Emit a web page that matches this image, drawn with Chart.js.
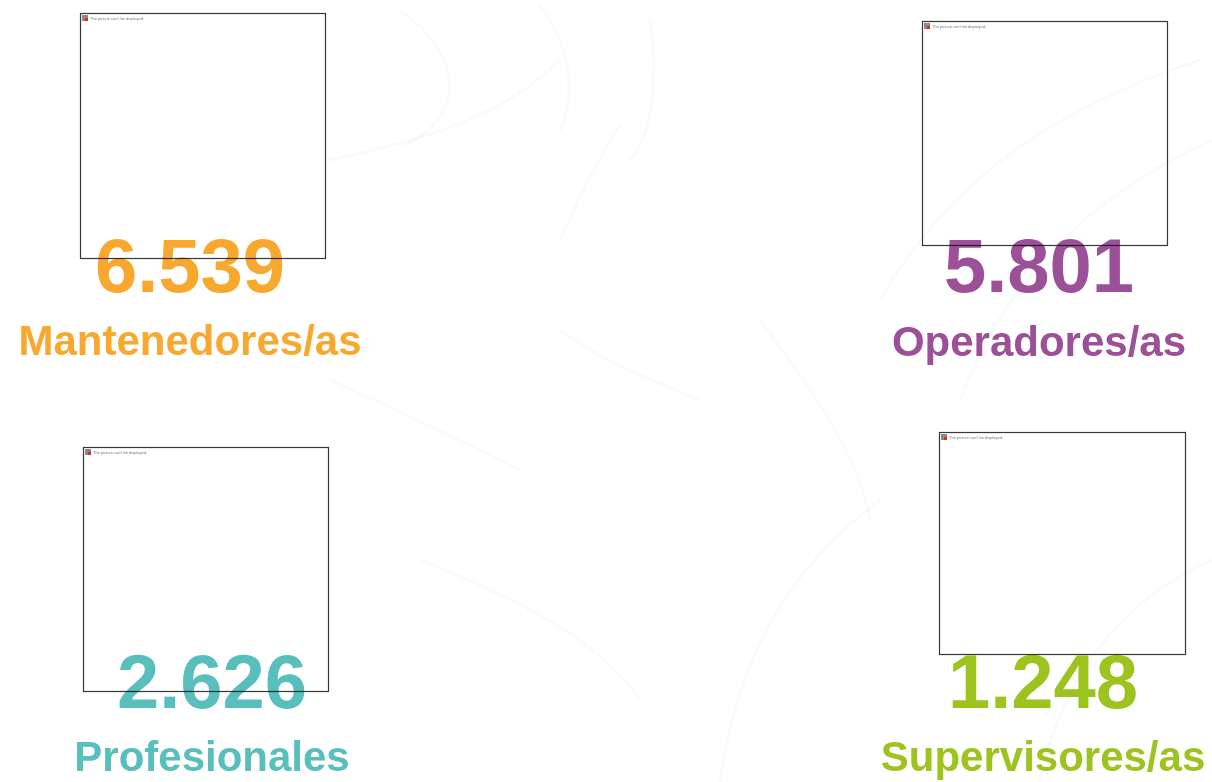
<!DOCTYPE html>
<html lang="es">
<head>
  <meta charset="UTF-8" />
  <title>Dotación por cargo</title>
  <script src="https://cdn.jsdelivr.net/npm/chart.js"></script>
  <style>
    html, body {
      margin: 0;
      padding: 0;
      background: #ffffff;
      font-family: Arial, "Liberation Sans", Helvetica, sans-serif;
    }
    .slide {
      position: relative;
      width: 1212px;
      height: 782px;
      overflow: hidden;
    }
  </style>
</head>
<body>
  <div class="slide">
    <canvas id="slideChart"></canvas>
  </div>

  <script>
    // Datos
    const categorias = ['Mantenedores/as', 'Operadores/as', 'Profesionales', 'Supervisores/as'];
    const valores = [6539, 5801, 2626, 1248];

    // Estilo y posición de cada bloque (no son datos)
    const colores = ['#F9A82F', '#9B5098', '#58BFBD', '#9DC31E'];
    const bloques = [
      { box: [80, 13, 245, 245], cx: 190, numBase: 292, labelBase: 355 },
      { box: [922, 21, 245, 224], cx: 1039, numBase: 292, labelBase: 356 },
      { box: [83, 447, 245, 244], cx: 212, numBase: 708, labelBase: 771 },
      { box: [939, 432, 246, 222], cx: 1043, numBase: 708, labelBase: 771 }
    ];
    const fuente = 'Arial, "Liberation Sans", Helvetica, sans-serif';

    const formatoMiles = (v) => String(v).replace(/\B(?=(\d{3})+(?!\d))/g, '.');

    // fondo con trazos muy suaves
    const fondoPlugin = {
      id: 'fondo',
      beforeDraw(chart) {
        const ctx = chart.ctx;
        ctx.save();
        ctx.fillStyle = '#ffffff';
        ctx.fillRect(0, 0, chart.width, chart.height);
        ctx.strokeStyle = 'rgba(0,0,0,0.018)';
        ctx.lineWidth = 3;
        ctx.lineCap = 'round';
        const curvas = [
          [[400, 10], [470, 60], [460, 120], [405, 145]],
          [[540, 5], [580, 60], [570, 110], [560, 130]],
          [[650, 20], [660, 80], [650, 140], [630, 160]],
          [[1200, 60], [1050, 110], [950, 180], [880, 300]],
          [[1212, 140], [1080, 200], [1000, 290], [960, 400]],
          [[620, 125], [590, 170], [570, 220], [560, 240]],
          [[330, 160], [420, 140], [500, 120], [560, 60]],
          [[560, 330], [600, 360], [650, 380], [700, 400]],
          [[880, 500], [800, 560], [740, 640], [720, 782]],
          [[1212, 560], [1120, 600], [1060, 680], [1040, 782]],
          [[420, 560], [520, 600], [600, 640], [640, 700]],
          [[330, 380], [420, 420], [480, 450], [520, 470]],
          [[760, 320], [820, 400], [860, 460], [870, 520]]
        ];
        curvas.forEach(c => {
          ctx.beginPath();
          ctx.moveTo(c[0][0], c[0][1]);
          ctx.bezierCurveTo(c[1][0], c[1][1], c[2][0], c[2][1], c[3][0], c[3][1]);
          ctx.stroke();
        });
        ctx.restore();
      }
    };

    // imagen rota + cifra + cargo
    const tarjetasPlugin = {
      id: 'tarjetas',
      afterDraw(chart) {
        const ctx = chart.ctx;
        const labels = chart.data.labels;
        const datos = chart.data.datasets[0].data;
        ctx.save();
        labels.forEach((cat, i) => {
          const b = bloques[i];
          const [x, y, w, h] = b.box;

          // icono de imagen no disponible
          ctx.fillStyle = '#8a8a8a';
          ctx.fillRect(x + 2, y + 2, 6, 6);
          ctx.fillStyle = '#e8261c';
          ctx.fillRect(x + 5, y + 5, 3, 3);
          ctx.fillStyle = '#777777';
          ctx.font = '4px ' + fuente;
          ctx.textAlign = 'left';
          ctx.textBaseline = 'alphabetic';
          ctx.fillText("The picture can't be displayed.", x + 10, y + 6.5);

          // cifra
          ctx.fillStyle = colores[i];
          ctx.textAlign = 'center';
          ctx.font = 'bold 76px ' + fuente;
          ctx.fillText(formatoMiles(datos[i]), b.cx, b.numBase);

          // cargo
          ctx.font = 'bold 42px ' + fuente;
          ctx.fillText(cat, b.cx, b.labelBase);

          // marco encima del texto
          ctx.strokeStyle = 'rgba(20,20,20,0.85)';
          ctx.lineWidth = 1.2;
          ctx.strokeRect(x + 0.5, y + 0.5, w, h);
        });
        ctx.restore();
      }
    };

    const ctx = document.getElementById('slideChart').getContext('2d');
    const slideChart = new Chart(ctx, {
      type: 'bar',
      data: {
        labels: categorias,
        datasets: [{
          label: 'Dotación',
          data: valores,
          backgroundColor: 'rgba(0,0,0,0)',
          borderWidth: 0
        }]
      },
      options: {
        responsive: true,
        maintainAspectRatio: false,
        animation: false,
        events: [],
        layout: { padding: 0 },
        plugins: {
          legend: { display: false },
          tooltip: { enabled: false }
        },
        scales: {
          x: { display: false },
          y: { display: false, beginAtZero: true }
        }
      },
      plugins: [fondoPlugin, tarjetasPlugin]
    });
  </script>
</body>
</html>
